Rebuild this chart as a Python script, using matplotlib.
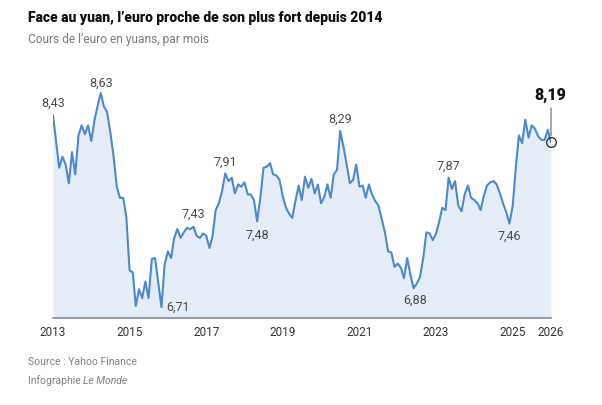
import matplotlib
matplotlib.use("Agg")
import matplotlib.pyplot as plt
import pandas as pd

# monthly EUR/CNY rate, Jan 2013 -> Jan 2026
start_month = "2013-01-01"
rates = [
    8.43, 8.18, 7.96, 8.06, 7.99, 7.82, 8.10, 7.90, 8.25, 8.34, 8.26, 8.34,
    8.20, 8.39, 8.51, 8.63, 8.51, 8.46, 8.28, 8.07, 7.79, 7.69, 7.69, 7.52,
    7.04, 7.02, 6.72, 6.87, 6.79, 6.94, 6.79, 7.14, 7.15, 6.93, 6.71, 7.09,
    7.21, 7.15, 7.33, 7.41, 7.33, 7.38, 7.42, 7.41, 7.43, 7.35, 7.33, 7.37,
    7.35, 7.24, 7.34, 7.58, 7.64, 7.75, 7.91, 7.84, 7.87, 7.73, 7.81, 7.79,
    7.83, 7.72, 7.72, 7.67, 7.48, 7.69, 7.96, 7.97, 8.00, 7.90, 7.89, 7.85,
    7.70, 7.60, 7.55, 7.51, 7.66, 7.80, 7.67, 7.88, 7.78, 7.86, 7.73, 7.81,
    7.64, 7.70, 7.81, 7.69, 7.90, 7.94, 8.29, 8.15, 7.99, 7.82, 7.85, 7.99,
    7.79, 7.80, 7.69, 7.81, 7.72, 7.66, 7.62, 7.50, 7.38, 7.21, 7.20, 7.07,
    7.10, 7.06, 6.97, 7.15, 7.00, 6.88, 6.92, 6.98, 7.15, 7.38, 7.37, 7.31,
    7.37, 7.48, 7.60, 7.58, 7.87, 7.77, 7.84, 7.62, 7.57, 7.72, 7.80, 7.69,
    7.67, 7.64, 7.58, 7.71, 7.80, 7.83, 7.84, 7.81, 7.73, 7.64, 7.56, 7.46,
    7.62, 7.98, 8.25, 8.18, 8.39, 8.23, 8.34, 8.31, 8.24, 8.21, 8.21, 8.30,
    8.19,
]
months = pd.date_range(start_month, periods=len(rates), freq="MS")

tick_years = [2013, 2015, 2017, 2019, 2021, 2023, 2025, 2026]
# points that carry a value label (index into rates)
label_idx = [0, 15, 34, 44, 54, 64, 90, 113, 124, 143]

title = "Face au yuan, l\u2019euro proche de son plus fort depuis 2014"
subtitle = "Cours de l\u2019euro en yuans, par mois"

LINE = "#4f89c8"
FILL = "#e5edf9"
GREY = "#4a4a4a"
FONT = ["Roboto", "DejaVu Sans"]

plt.rcParams["font.family"] = FONT

fig = plt.figure(figsize=(6.02, 4.05), dpi=100)
W, H = 602, 405
ax = fig.add_axes([53 / W, 1 - 318 / H, 498 / W, 238 / H])

ax.fill_between(months, rates, 6.612, color=FILL, lw=0)
ax.plot(months, rates, color=LINE, lw=1.5, solid_joinstyle="round")

ax.set_xlim(months[0], months[-1])
ax.set_ylim(6.612, 8.747)

for s in ["top", "right", "left"]:
    ax.spines[s].set_visible(False)
ax.spines["bottom"].set_color("#8a8e94")
ax.spines["bottom"].set_linewidth(1.2)
ax.set_yticks([])

ticks = [pd.Timestamp(f"{y}-01-01") for y in tick_years]
ax.set_xticks(ticks)
ax.set_xticklabels([str(y) for y in tick_years], fontsize=8.5, color="#333333")
ax.tick_params(axis="x", length=0, pad=6)

# px offsets for the labels (right, up)
offsets = [(0, 12), (0, 10), (17, 0), (0, 13), (0, 11),
           (0, -14), (0, 12), (2, -12), (0, 11), (0, -13)]
for i, (dx, dy) in zip(label_idx, offsets):
    txt = f"{rates[i]:.2f}".replace(".", ",")
    ax.annotate(txt, (months[i], rates[i]), xytext=(dx * 0.72, dy * 0.72),
                textcoords="offset points", ha="center", va="center",
                fontsize=9, color=GREY)

# last value
ax.plot(months[-1], rates[-1], "o", ms=7, mfc="none", mec="#222222", mew=0.9,
        clip_on=False)
ax.annotate("", (months[-1], rates[-1]), xytext=(0, 34 * 0.72),
            textcoords="offset points",
            arrowprops=dict(arrowstyle="-", color="#777777", lw=0.9,
                            shrinkA=0, shrinkB=4.5))
ax.annotate(f"{rates[-1]:.2f}".replace(".", ","), (months[-1], rates[-1]),
            xytext=(-1 * 0.72, 47 * 0.72), textcoords="offset points",
            ha="center", va="center", fontsize=11.5, fontweight="heavy",
            color="#111111")

fig.text(28 / W, 1 - 18 / H, title, fontsize=10, fontweight="heavy",
         color="#111111", va="center", ha="left")
fig.text(28 / W, 1 - 39 / H, subtitle, fontsize=8.6, color="#7a7a7a",
         va="center", ha="left")
fig.text(28 / W, 1 - 362 / H, "Source : Yahoo Finance", fontsize=7.5,
         color="#808080", va="center", ha="left")
t = fig.text(28 / W, 1 - 381 / H, "Infographie ", fontsize=7.5,
             color="#808080", va="center", ha="left")
fig.canvas.draw()
bb = t.get_window_extent()
fig.text(bb.x1 / W, 1 - 381 / H, "Le Monde", fontsize=7.5, style="italic",
         color="#808080", va="center", ha="left")

fig.savefig("out.png", dpi=100)
